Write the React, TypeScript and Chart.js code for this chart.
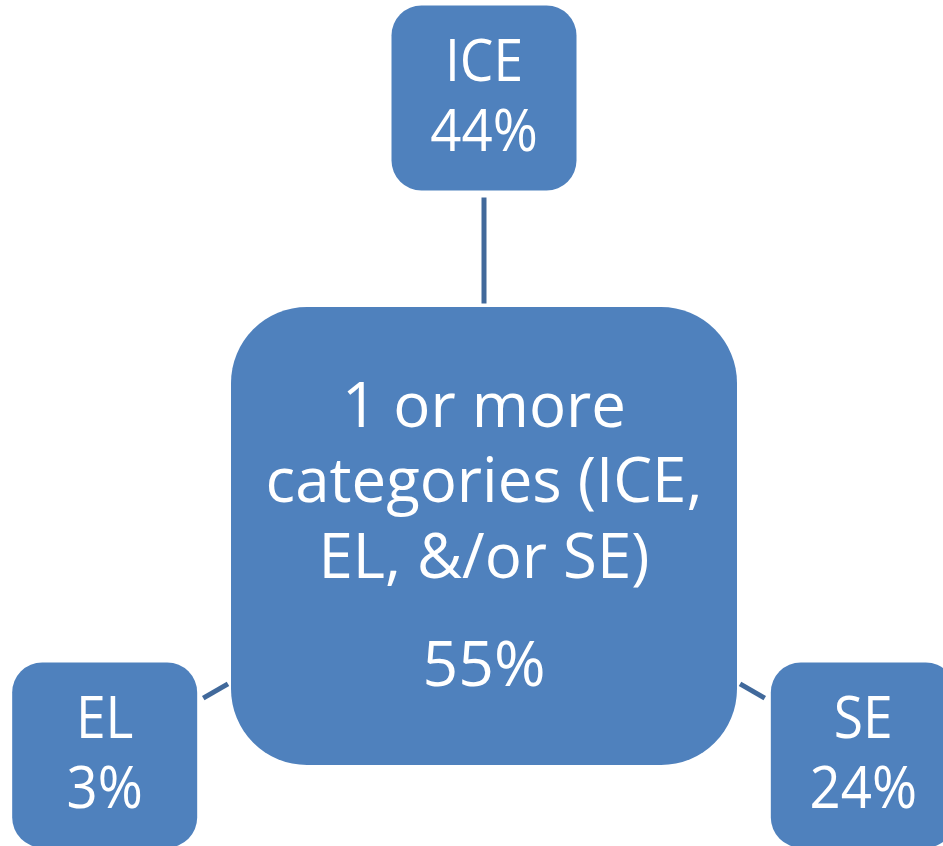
import { useEffect, useRef } from "react";
import { Chart, registerables } from "chart.js";

Chart.register(...registerables);

// ---- data ----
const hubLines = ["1 or more", "categories (ICE,", "EL, &/or SE)"];
const hubShare = 55;
const satelliteNames = ["ICE", "EL", "SE"];
const satelliteShares = [44, 3, 24];
const satelliteAngles = [90, 210, 330]; // degrees, radial layout around hub
const layoutRadius = 438;

const FILL = "#4f81bd";
const LINE = "#41699b";
const FONT = '"Open Sans", "Noto Sans", sans-serif';

const HUB_W = 506;
const HUB_H = 458;
const HUB_R = 76;
const SAT_W = 185;
const SAT_H = 185;
const SAT_R = 30;

const satX = satelliteAngles.map((a) => layoutRadius * Math.cos((a * Math.PI) / 180));
const satY = satelliteAngles.map((a) => layoutRadius * Math.sin((a * Math.PI) / 180));

function rectExit(hw: number, hh: number, dx: number, dy: number) {
  const tx = dx !== 0 ? hw / Math.abs(dx) : Infinity;
  const ty = dy !== 0 ? hh / Math.abs(dy) : Infinity;
  return Math.min(tx, ty);
}

const diagramPlugin = {
  id: "diagram",
  afterDatasetsDraw(chart: any) {
    const ctx: CanvasRenderingContext2D = chart.ctx;
    const xs = chart.scales.x;
    const ys = chart.scales.y;
    const px = (v: number) => xs.getPixelForValue(v);
    const py = (v: number) => ys.getPixelForValue(v);
    const hx = px(0);
    const hy = py(0);
    const hubWpx = Math.abs(px(HUB_W / 2) - px(-HUB_W / 2));
    const hubHpx = Math.abs(py(HUB_H / 2) - py(-HUB_H / 2));
    const satWpx = Math.abs(px(SAT_W / 2) - px(-SAT_W / 2));
    const satHpx = Math.abs(py(SAT_H / 2) - py(-SAT_H / 2));

    ctx.save();
    // connectors
    ctx.strokeStyle = LINE;
    ctx.lineWidth = 5;
    ctx.lineCap = "butt";
    satelliteNames.forEach((_, i) => {
      const sx = px(satX[i]);
      const sy = py(satY[i]);
      const len = Math.hypot(sx - hx, sy - hy);
      const ux = (sx - hx) / len;
      const uy = (sy - hy) / len;
      const tHub = rectExit(hubWpx / 2, hubHpx / 2, ux, uy) + 3.5;
      const tSat = len - rectExit(satWpx / 2, satHpx / 2, -ux, -uy) - 7;
      ctx.beginPath();
      ctx.moveTo(hx + ux * tHub, hy + uy * tHub);
      ctx.lineTo(hx + ux * tSat, hy + uy * tSat);
      ctx.stroke();
    });

    // boxes
    ctx.fillStyle = FILL;
    ctx.beginPath();
    ctx.roundRect(hx - hubWpx / 2, hy - hubHpx / 2, hubWpx, hubHpx, HUB_R);
    ctx.fill();
    satelliteNames.forEach((_, i) => {
      const sx = px(satX[i]);
      const sy = py(satY[i]);
      ctx.beginPath();
      ctx.roundRect(sx - satWpx / 2, sy - satHpx / 2, satWpx, satHpx, SAT_R);
      ctx.fill();
    });

    // text
    ctx.fillStyle = "#ffffff";
    ctx.textAlign = "center";
    ctx.textBaseline = "alphabetic";
    const drawText = (t: string, x: number, y: number, size: number, sx: number) => {
      ctx.save();
      ctx.font = `${size}px ${FONT}`;
      ctx.translate(x, y);
      ctx.scale(sx, 1);
      ctx.fillText(t, 0, 0);
      ctx.restore();
    };
    const hubOffsets = [-109, -34, 42];
    hubLines.forEach((line, k) => drawText(line, hx, hy + hubOffsets[k], 63, 0.98));
    drawText(`${hubShare}%`, hx, hy + 150, 63, 0.99);

    satelliteNames.forEach((name, i) => {
      const sx = px(satX[i]);
      const sy = py(satY[i]);
      drawText(name, sx, sy - 17, 58, 0.92);
      drawText(`${satelliteShares[i]}%`, sx, sy + 53, 58, 0.94);
    });
    ctx.restore();
  },
};

export default function App() {
  const ref = useRef<HTMLCanvasElement>(null);
  useEffect(() => {
    const chart = new Chart(ref.current!, {
      type: "scatter",
      data: {
        datasets: [
          {
            label: "nodes",
            data: [{ x: 0, y: 0 }, ...satX.map((x, i) => ({ x, y: satY[i] }))],
            pointRadius: 0,
            pointHoverRadius: 0,
          },
        ],
      },
      options: {
        responsive: false,
        animation: false,
        layout: { padding: 0 },
        plugins: { legend: { display: false }, tooltip: { enabled: false } },
        scales: {
          x: { type: "linear", min: -484, max: 459, display: false },
          y: { type: "linear", min: -310, max: 536, display: false },
        },
      },
      plugins: [diagramPlugin],
    });
    return () => chart.destroy();
  }, []);
  return (
    <div style={{ position: "absolute", left: 0, top: 0, width: 943, height: 846, background: "#ffffff" }}>
      <canvas ref={ref} width={943} height={846} style={{ display: "block", width: 943, height: 846 }} />
    </div>
  );
}
